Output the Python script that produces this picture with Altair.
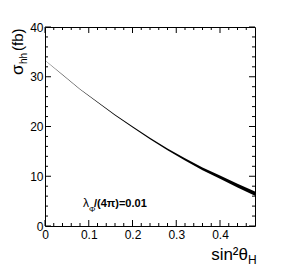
import altair as alt
import pandas as pd

# ---- data ----
sin2 = [0.00, 0.04, 0.08, 0.12, 0.16, 0.20, 0.24, 0.28, 0.32, 0.36, 0.40, 0.44, 0.48]
sigma_lo = [33.26, 30.35, 27.44, 24.83, 22.20, 19.78, 17.45, 15.21, 13.18, 11.23, 9.48, 7.73, 6.08]
sigma_hi = [33.34, 30.45, 27.56, 24.98, 22.40, 20.03, 17.75, 15.59, 13.63, 11.78, 10.13, 8.48, 6.93]

x_major = [0.0, 0.1, 0.2, 0.3, 0.4]
x_minor = [0.02, 0.04, 0.06, 0.08, 0.12, 0.14, 0.16, 0.18, 0.22, 0.24, 0.26, 0.28,
           0.32, 0.34, 0.36, 0.38, 0.42, 0.44, 0.46]
y_major = [0, 10, 20, 30, 40]
y_minor = [2, 4, 6, 8, 12, 14, 16, 18, 22, 24, 26, 28, 32, 34, 36, 38]

y_title_main = ["σ"]
y_title_sub = ["hh"]
y_title_unit = ["(fb)"]
x_title_main = ["sin²θ"]
x_title_sub = ["H"]
ann_lambda = ["λ"]
ann_sub = ["Φ"]
ann_rest = ["/(4π)=0.01"]

W, H = 210, 199
FONT = "Liberation Sans"

xs = alt.Scale(domain=[0, 0.48], nice=False, zero=False)
ys = alt.Scale(domain=[0, 40], nice=False, zero=False)

band_df = pd.DataFrame({"x": sin2, "lo": sigma_lo, "hi": sigma_hi})

band = alt.Chart(band_df).mark_area(color="black", opacity=1).encode(
    x=alt.X("x:Q", scale=xs, title=None,
            axis=alt.Axis(values=x_major, ticks=False, domain=False, grid=False,
                          labelFontSize=12, labelFont=FONT, labelColor="black",
                          labelPadding=3, labelFlush=False,
                          labelExpr="datum.value == 0 ? '0' : format(datum.value, '.1f')")),
    y=alt.Y("lo:Q", scale=ys, title=None,
            axis=alt.Axis(values=y_major, ticks=False, domain=False, grid=False,
                          labelFontSize=12, labelFont=FONT, labelColor="black",
                          labelPadding=2, labelFlush=False)),
    y2="hi:Q",
)

def xticks(vals, length):
    df = pd.DataFrame({"t": vals})
    bot = alt.Chart(df).mark_rule(color="black", strokeWidth=1).encode(
        x=alt.X("t:Q", scale=xs), y=alt.value(H), y2=alt.value(H - length))
    top = alt.Chart(df).mark_rule(color="black", strokeWidth=1).encode(
        x=alt.X("t:Q", scale=xs), y=alt.value(0), y2=alt.value(length))
    return [bot, top]

def yticks(vals, length):
    df = pd.DataFrame({"t": vals})
    left = alt.Chart(df).mark_rule(color="black", strokeWidth=1).encode(
        y=alt.Y("t:Q", scale=ys), x=alt.value(0), x2=alt.value(length))
    right = alt.Chart(df).mark_rule(color="black", strokeWidth=1).encode(
        y=alt.Y("t:Q", scale=ys), x=alt.value(W), x2=alt.value(W - length))
    return [left, right]

def label(txt, x, y, size, angle=0, align="left", weight="normal"):
    return alt.Chart(pd.DataFrame({"s": txt})).mark_text(
        font=FONT, fontSize=size, angle=angle, align=align, baseline="alphabetic",
        fontWeight=weight, color="black"
    ).encode(x=alt.value(x), y=alt.value(y), text="s:N")

layers = [band]
layers += xticks(x_major, 6) + xticks(x_minor, 3)
layers += yticks(y_major, 6) + yticks(y_minor, 3)
layers += [
    label(y_title_main, -22, 48, 17, angle=270),
    label(y_title_sub, -18, 37, 10, angle=270),
    label(y_title_unit, -22, 24, 15, angle=270),
    label(x_title_main, 203, 233, 17, align="right"),
    label(x_title_sub, 203, 237, 12),
    label(ann_lambda, 38, 180, 12),
    label(ann_sub, 44, 185, 8),
    label(ann_rest, 49, 180, 11, weight="bold"),
]

chart = alt.layer(*layers).properties(
    width=W, height=H,
    autosize=alt.AutoSizeParams(type="none"),
    padding={"left": 37, "top": 19, "right": 21, "bottom": 41},
).configure_view(stroke="black", strokeWidth=1)

chart.save("out.html", embed_options={"renderer": "svg", "actions": False})
